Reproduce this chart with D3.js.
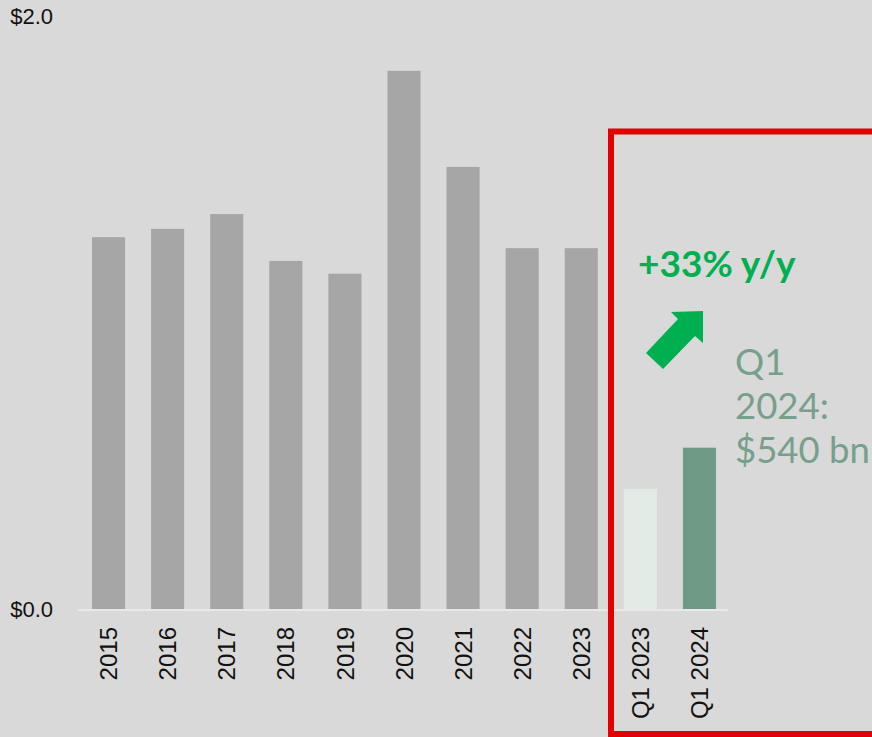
<!DOCTYPE html>
<html>
<head>
<meta charset="utf-8">
<script src="https://cdn.jsdelivr.net/npm/d3@7"></script>
<style>
  body { margin: 0; background: #d9d9d9; }
  svg { display: block; }
</style>
</head>
<body>
<div id="chart"></div>
<script>
// Values in $ trillions
var categories = ["2015", "2016", "2017", "2018", "2019", "2020", "2021", "2022", "2023", "Q1 2023", "Q1 2024"];
var values = [1.254, 1.282, 1.332, 1.174, 1.131, 1.815, 1.491, 1.217, 1.217, 0.405, 0.544];
var barColors = ["#a6a6a6", "#a6a6a6", "#a6a6a6", "#a6a6a6", "#a6a6a6", "#a6a6a6", "#a6a6a6", "#a6a6a6", "#a6a6a6", "#e2ebe5", "#6f9a86"];
var yTicks = [0, 2];
var growthLabel = "+33% y/y";
var noteLines = ["Q1", "2024:", "$540 bn"];

var width = 872, height = 737;

var svg = d3.select("#chart")
  .append("svg")
    .attr("width", width)
    .attr("height", height);

// background
svg.append("rect")
  .attr("width", width)
  .attr("height", height)
  .attr("fill", "#d9d9d9");

// Scales
var x = d3.scaleBand()
  .domain(categories)
  .range([79, 729])
  .paddingInner(0.44)
  .paddingOuter(0.22);

var y = d3.scaleLinear()
  .domain([0, 2])
  .range([609, 16]);

// Bars
svg.selectAll(".bar")
  .data(values)
  .enter()
  .append("rect")
    .attr("class", "bar")
    .attr("x", function(d, i) { return x(categories[i]); })
    .attr("width", x.bandwidth())
    .attr("y", function(d) { return y(d); })
    .attr("height", function(d) { return y(0) - y(d); })
    .attr("fill", function(d, i) { return barColors[i]; });

// Baseline
svg.append("line")
  .attr("x1", 78)
  .attr("x2", 728)
  .attr("y1", y(0) + 1)
  .attr("y2", y(0) + 1)
  .attr("stroke", "#ececec")
  .attr("stroke-width", 1.5);

// Y axis (only $0.0 and $2.0)
var yAxis = svg.append("g")
  .attr("transform", "translate(53,0)")
  .call(d3.axisLeft(y)
    .tickValues(yTicks)
    .tickSize(0)
    .tickPadding(0)
    .tickFormat(function(d) { return "$" + d3.format(".1f")(d); }));
yAxis.select(".domain").remove();
yAxis.selectAll("text")
  .attr("font-family", "'Liberation Sans', Arial, sans-serif")
  .attr("font-size", 22)
  .attr("fill", "#111");

// X axis, rotated labels
var xAxis = svg.append("g")
  .attr("transform", "translate(0," + y(0) + ")")
  .call(d3.axisBottom(x).tickSize(0));
xAxis.select(".domain").remove();
xAxis.selectAll("text")
  .attr("transform", "rotate(-90)")
  .attr("text-anchor", "end")
  .attr("x", -18)
  .attr("y", 8.6)
  .attr("dy", 0)
  .attr("font-family", "'Liberation Sans', Arial, sans-serif")
  .attr("font-size", 24)
  .attr("fill", "#111");

// Red highlight box around the Q1 bars
svg.append("rect")
  .attr("x", 611)
  .attr("y", 131.5)
  .attr("width", 300)
  .attr("height", 602.5)
  .attr("fill", "none")
  .attr("stroke", "#e30000")
  .attr("stroke-width", 6);

// Growth label
svg.append("text")
  .attr("x", 638)
  .attr("y", 277)
  .attr("font-family", "Lato, 'Open Sans', sans-serif")
  .attr("font-weight", 700)
  .attr("font-size", 37)
  .attr("fill", "#00b050")
  .text(growthLabel);

// Block arrow pointing up-right
var arrowShape = [[0, 0], [-32, 1], [-25, 8], [-57, 42], [-40, 58], [-8, 25], [0, 32]];
svg.append("polygon")
  .attr("transform", "translate(703,311)")
  .attr("points", arrowShape.map(function(p) { return p.join(","); }).join(" "))
  .attr("fill", "#00b050");

// Q1 2024 note
var note = svg.append("text")
  .attr("font-family", "Lato, 'Open Sans', sans-serif")
  .attr("font-size", 36.5)
  .attr("fill", "#76a08c");
note.selectAll("tspan")
  .data(noteLines)
  .enter()
  .append("tspan")
    .attr("x", 735)
    .attr("y", function(d, i) { return 375 + i * 44; })
    .text(function(d) { return d; });
</script>
</body>
</html>
